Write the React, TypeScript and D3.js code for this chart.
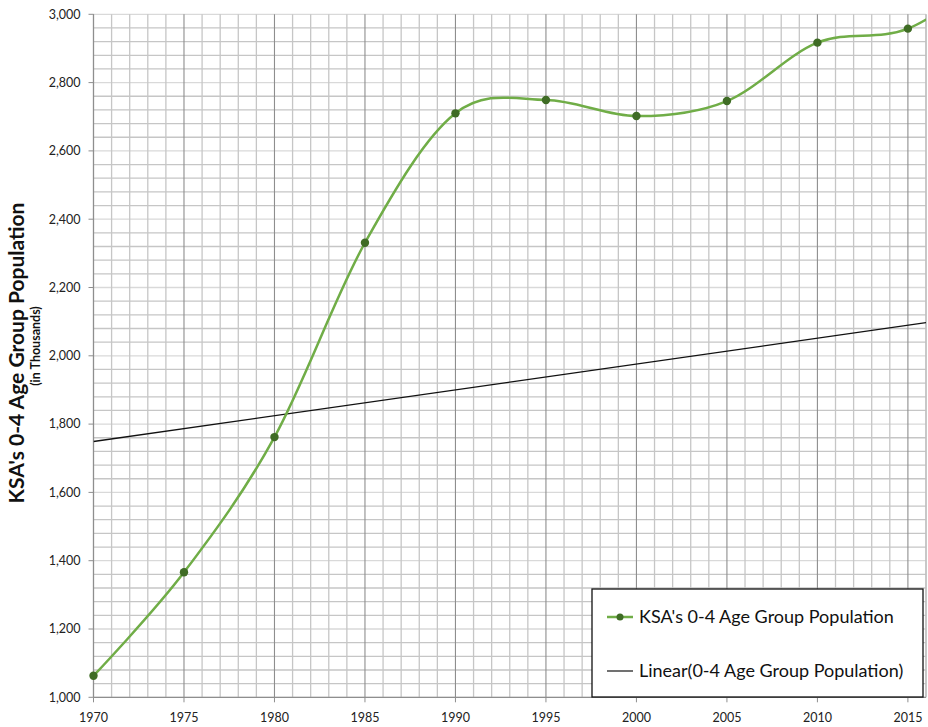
import React from "react";
import * as d3 from "d3";

const years = [1970, 1975, 1980, 1985, 1990, 1995, 2000, 2005, 2010, 2015];
const population = [1063, 1366, 1762, 2331, 2710, 2749, 2702, 2746, 2917, 2958];
// next reading beyond the visible axis (curve continues past the right edge)
const nextYear = [2020];
const nextPopulation = [3130];
const trendYears = [1970, 2016];
const trendValues = [1749, 2097];
const xTicks = [1970, 1975, 1980, 1985, 1990, 1995, 2000, 2005, 2010, 2015];
const yTicks = [1000, 1200, 1400, 1600, 1800, 2000, 2200, 2400, 2600, 2800, 3000];

const W = 928, H = 727;
const L = 93.5, R = 926, T = 14.3, B = 697.3;
const FONT = "Lato, 'Open Sans', sans-serif";

export default function App() {
  const x = d3.scaleLinear().domain([1970, 2016]).range([L, R]);
  const y = d3.scaleLinear().domain([1000, 3000]).range([B, T]);
  const pts: [number, number][] = years.map((yr, i) => [yr, population[i]]);
  const allPts: [number, number][] = [...pts, ...nextYear.map((yr, i) => [yr, nextPopulation[i]] as [number, number])];
  const line = d3.line<[number, number]>().x(d => x(d[0])).y(d => y(d[1])).curve(d3.curveCardinal.tension(0));
  const trend = d3.line<number>().x(d => x(trendYears[d])).y(d => y(trendValues[d]));
  const minorYears = d3.range(1970, 2017);
  const hLines = d3.range(1000, 3001, 40);
  const fmt = d3.format(",");

  return (
    <svg width={W} height={H} style={{ position: "absolute", left: 0, top: 0, background: "#fff" }}>
      <defs>
        <clipPath id="plot"><rect x={L} y={T} width={R - L} height={B - T} /></clipPath>
      </defs>
      {hLines.map(v => (
        <line key={"h" + v} x1={L} x2={R} y1={y(v)} y2={y(v)} stroke={v % 200 === 0 ? "#d9d9d9" : "#c6c6c6"} strokeWidth={1.3} />
      ))}
      {minorYears.map(yr => (
        <line key={"v" + yr} x1={x(yr)} x2={x(yr)} y1={T} y2={B} stroke={yr % 5 === 0 ? "#8e8e8e" : "#c6c6c6"} strokeWidth={yr % 5 === 0 ? 1.1 : 1.3} />
      ))}
      <line x1={R} x2={R} y1={T} y2={B} stroke="#bdbdbd" strokeWidth={1.2} />
      <line x1={L} x2={R} y1={B} y2={B} stroke="#8e8e8e" strokeWidth={1.2} />
      <line x1={L} x2={L} y1={T} y2={B} stroke="#8e8e8e" strokeWidth={1.2} />
      {yTicks.map(v => (
        <g key={"yt" + v}>
          <line x1={L - 5} x2={L} y1={y(v)} y2={y(v)} stroke="#8e8e8e" />
          <text x={L - 13} y={y(v)} dy="0.35em" textAnchor="end" fontFamily={FONT} fontSize={12.5} fill="#222">{fmt(v)}</text>
        </g>
      ))}
      {xTicks.map(v => (
        <g key={"xt" + v}>
          <line x1={x(v)} x2={x(v)} y1={B} y2={B + 5} stroke="#8e8e8e" />
          <text x={x(v)} y={B + 25} textAnchor="middle" fontFamily={FONT} fontSize={12.5} fill="#222">{v}</text>
        </g>
      ))}
      <g clipPath="url(#plot)">
        <path d={trend([0, 1]) || ""} fill="none" stroke="#111" strokeWidth={1.3} />
        <path d={line(allPts) || ""} fill="none" stroke="#70ad47" strokeWidth={2.5} />
      </g>
      {pts.map((p, i) => (
        <circle key={"p" + i} cx={x(p[0])} cy={y(p[1])} r={4.2} fill="#3f6c25" />
      ))}
      <text transform={`translate(24,353) rotate(-90)`} textAnchor="middle" fontFamily={FONT} fontWeight="bold" fontSize={21} fill="#111">KSA's 0-4 Age Group Population</text>
      <text transform={`translate(40,346) rotate(-90)`} textAnchor="middle" fontFamily={FONT} fontWeight="bold" fontSize={12.5} fill="#111">(in Thousands)</text>
      <g>
        <rect x={592} y={589} width={331} height={108} fill="#fff" stroke="#111" strokeWidth={1.3} />
        <line x1={607} x2={633} y1={617} y2={617} stroke="#70ad47" strokeWidth={2.5} />
        <circle cx={620} cy={617} r={3.5} fill="#3f6c25" />
        <text x={639} y={617} dy="0.35em" fontFamily={FONT} fontSize={18} fill="#111">KSA's 0-4 Age Group Population</text>
        <line x1={607} x2={633} y1={671} y2={671} stroke="#111" strokeWidth={1.2} />
        <text x={639} y={671} dy="0.35em" fontFamily={FONT} fontSize={18} fill="#111">Linear(0-4 Age Group Population)</text>
      </g>
    </svg>
  );
}
